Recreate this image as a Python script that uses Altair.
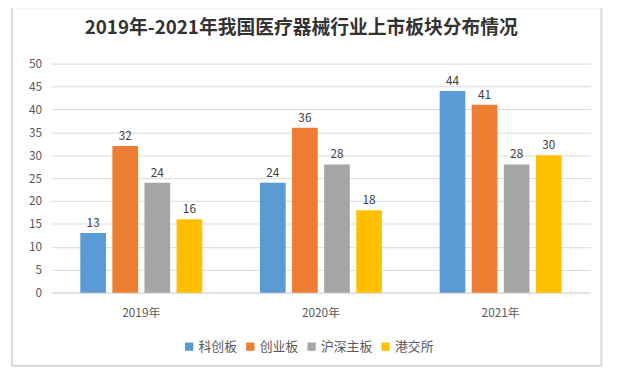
import altair as alt
import pandas as pd

years = ["2019年", "2020年", "2021年"]
boards = ["科创板", "创业板", "沪深主板", "港交所"]
colors = ["#5B9BD5", "#ED7D31", "#A5A5A5", "#FFC000"]
kechuang = [13, 24, 44]
chuangye = [32, 36, 41]
hushen = [24, 28, 28]
gangjiao = [16, 18, 30]

rows = []
for i, y in enumerate(years):
    for b, vals in zip(boards, [kechuang, chuangye, hushen, gangjiao]):
        rows.append({"year": y, "board": b, "value": vals[i]})
df = pd.DataFrame(rows)

FONT = "Noto Sans CJK SC"

x = alt.X("year:N", sort=years, title=None,
          scale=alt.Scale(paddingInner=0, paddingOuter=0),
          axis=alt.Axis(labelAngle=0, labelFont=FONT, labelFontSize=12, labelColor="#595959",
                        ticks=False, domainColor="#d9d9d9", labelPadding=15))
xo = alt.XOffset("board:N", sort=boards, scale=alt.Scale(paddingInner=0.2, paddingOuter=0.9))
y = alt.Y("value:Q", title=None,
          scale=alt.Scale(domain=[0, 50]),
          axis=alt.Axis(values=list(range(0, 51, 5)), labelFont=FONT, labelFontSize=12,
                        labelColor="#595959", domain=False, ticks=False, gridColor="#d9d9d9",
                        labelPadding=10))

base = alt.Chart(df)
bars = base.mark_bar().encode(
    x=x, xOffset=xo, y=y,
    color=alt.Color("board:N", sort=boards, scale=alt.Scale(domain=boards, range=colors),
                    legend=alt.Legend(title=None, orient="none", direction="horizontal",
                                      legendX=133, legendY=280, symbolType="square",
                                      symbolSize=70, symbolStrokeWidth=0, labelFont=FONT,
                                      labelFontSize=13, labelColor="#595959",
                                      columnPadding=6, symbolOffset=0, labelOffset=3)),
)
labels = base.mark_text(dy=-10, font=FONT, fontSize=12, color="#404040").encode(
    x=x, xOffset=xo, y=y, text="value:Q"
)
border = alt.Chart(pd.DataFrame({"a": [0]})).mark_rect(
    fill=None, stroke="#d9d9d9", strokeWidth=2
).encode(x=alt.value(-40), x2=alt.value(557), y=alt.value(-57), y2=alt.value(306))

chart = alt.layer(border, bars, labels).properties(
    width=546, height=232,
    autosize=alt.AutoSizeParams(type="none"),
    padding={"left": 44, "top": 54, "right": 35, "bottom": 73},
    title=alt.TitleParams("2019年-2021年我国医疗器械行业上市板块分布情况", font=FONT,
                          fontSize=19, fontWeight="bold", color="#333333",
                          anchor="middle", dx=-20, offset=0, dy=32),
).configure_view(stroke=None)

chart.save("out.html", embed_options={"renderer": "svg", "actions": False})
